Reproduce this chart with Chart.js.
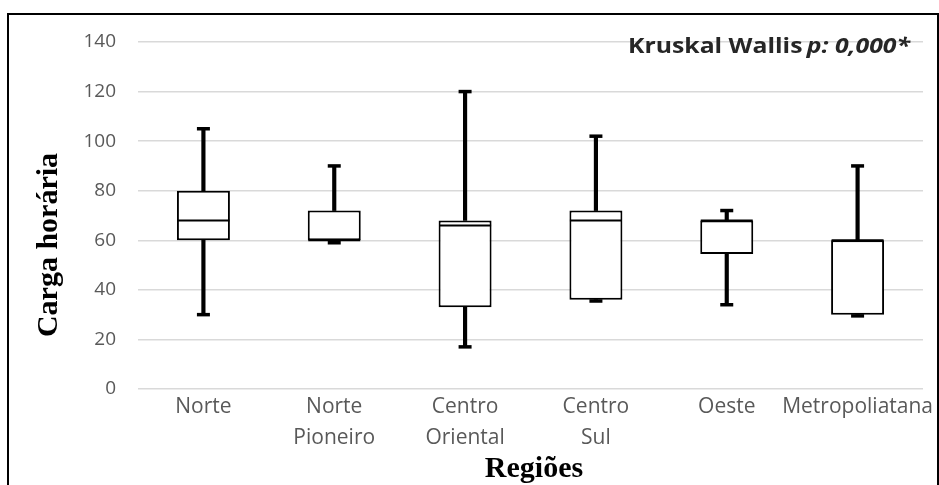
<!DOCTYPE html>
<html>
<head>
<meta charset="utf-8">
<script src="https://cdn.jsdelivr.net/npm/chart.js@4"></script>
<style>
  html, body { margin: 0; padding: 0; background: #ffffff; }
  canvas { display: block; }
</style>
</head>
<body>
<canvas id="c" width="939" height="485"></canvas>
<script>
// ---- data ----
const categories = [['Norte'], ['Norte', 'Pioneiro'], ['Centro', 'Oriental'], ['Centro', 'Sul'], ['Oeste'], ['Metropoliatana']];
const minimo  = [30, 59, 17, 35.5, 34, 29.5];
const q1      = [60, 60, 33, 36, 54.5, 30];
const mediana = [68, 60, 66, 68, 68, 60];
const q3      = [80, 72, 68, 72, 68, 60];
const maximo  = [105, 90, 120, 102, 72, 90];
const yTicks  = [0, 20, 40, 60, 80, 100, 120, 140];
const yTitle = 'Carga horária';
const xTitle = 'Regiões';
const noteA = 'Kruskal Wallis';
const noteB = 'p: 0,000*';

const pairs = (a, b) => a.map((v, i) => [v, b[i]]);

const boxStyle = {
  type: 'bar', grouped: false, backgroundColor: '#ffffff', borderColor: '#000000',
  borderWidth: 2, borderSkipped: false, barPercentage: 0.405, categoryPercentage: 1, order: 2
};
const medianStyle = {
  type: 'line', showLine: false, pointStyle: 'line', pointRadius: 26,
  borderColor: '#000000', pointBorderWidth: 2, borderWidth: 2, order: 1
};
const whiskerStyle = {
  type: 'bar', grouped: false, backgroundColor: '#000000', borderWidth: 0,
  barThickness: 3.5, order: 3
};
const capStyle = {
  type: 'line', showLine: false, pointStyle: 'line', pointRadius: 6.5,
  borderColor: '#000000', pointBorderWidth: 3.5, borderWidth: 3.5, order: 0
};

const overlay = {
  id: 'overlay',
  beforeDraw(chart) {
    const ctx = chart.ctx;
    ctx.save();
    ctx.fillStyle = '#ffffff';
    ctx.fillRect(0, 0, chart.width, chart.height);
    ctx.restore();
  },
  afterDraw(chart) {
    const ctx = chart.ctx;
    ctx.save();
    // outer frame
    ctx.strokeStyle = '#000000';
    ctx.lineWidth = 2;
    ctx.strokeRect(8, 14, 930, 520);
    // y title
    ctx.fillStyle = '#000000';
    ctx.font = 'bold 30px "Liberation Serif"';
    ctx.textAlign = 'center';
    ctx.textBaseline = 'alphabetic';
    ctx.save();
    ctx.translate(57, 245);
    ctx.rotate(-Math.PI / 2);
    ctx.fillText(yTitle, 0, 0);
    ctx.restore();
    // x title
    ctx.fillText(xTitle, 534, 477);
    // note
    ctx.textAlign = 'left';
    ctx.font = 'bold 22px "Open Sans"';
    const wA = ctx.measureText(noteA + ' ').width;
    ctx.font = 'italic bold 22px "Open Sans"';
    const wB = ctx.measureText(noteB).width;
    const s = 282 / (wA + wB - 2);
    ctx.save();
    ctx.translate(628, 53);
    ctx.scale(s, 1);
    ctx.fillStyle = '#262626';
    ctx.font = 'bold 22px "Open Sans"';
    ctx.fillText(noteA, 0, 0);
    ctx.font = 'italic bold 22px "Open Sans"';
    ctx.fillText(noteB, wA - 2, 0);
    ctx.restore();
    ctx.restore();
  }
};

new Chart(document.getElementById('c'), {
  data: {
    labels: categories,
    datasets: [
      Object.assign({ data: pairs(q1, q3) }, boxStyle),
      Object.assign({ data: mediana }, medianStyle),
      Object.assign({ data: pairs(q3, maximo) }, whiskerStyle),
      Object.assign({ data: pairs(minimo, q1) }, whiskerStyle),
      Object.assign({ data: maximo }, capStyle),
      Object.assign({ data: minimo }, capStyle)
    ]
  },
  options: {
    responsive: false,
    animation: false,
    layout: { autoPadding: false, padding: { left: 0, top: 42, right: 16, bottom: 0 } },
    plugins: { legend: { display: false }, tooltip: { enabled: false } },
    scales: {
      x: {
        type: 'category',
        offset: true,
        grid: { display: false, drawTicks: false },
        border: { display: false },
        ticks: {
          color: '#595959', padding: 2, maxRotation: 0, autoSkip: false,
          font: { family: '"Open Sans"', size: 21, lineHeight: 1.48 }
        },
        afterFit(scale) { scale.height = 96; }
      },
      y: {
        min: 0, max: 140,
        afterBuildTicks(scale) { scale.ticks = yTicks.map(v => ({ value: v })); },
        grid: { color: '#d9d9d9', lineWidth: 1.5, drawTicks: false },
        border: { display: false },
        ticks: {
          color: '#595959', padding: 22,
          font: { family: '"Open Sans"', size: 19 }
        },
        afterFit(scale) { scale.width = 138; }
      }
    }
  },
  plugins: [overlay]
});
</script>
</body>
</html>
